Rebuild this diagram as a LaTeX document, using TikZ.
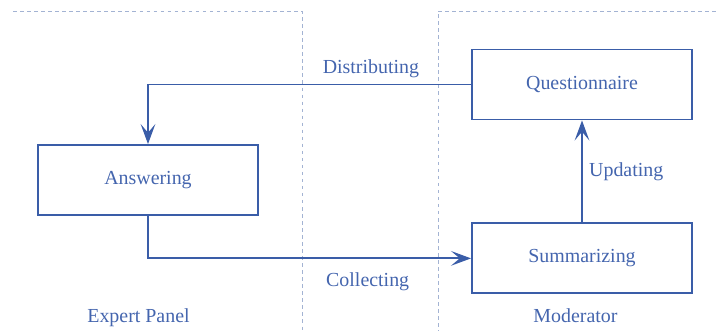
\documentclass[tikz,border=0pt]{standalone}
\usepackage{fontspec}
\setmainfont{Liberation Serif}
\usetikzlibrary{arrows.meta, positioning}
\definecolor{dlpblue}{HTML}{3A5DA8}
\definecolor{dlptext}{HTML}{4465AE}
\definecolor{dlpgrid}{HTML}{A3B3D3}
\tikzset{
  stage/.style={rectangle, minimum width=6.6cm, minimum height=2.1cm, draw=dlpblue,
    line width=1.6pt, font=\fontsize{17}{20}\selectfont, text=dlptext, inner sep=0pt},
  lbl/.style={font=\fontsize{17}{20}\selectfont, text=dlptext},
  flow/.style={-{Stealth[length=6mm, width=4.4mm, inset=2.6mm]}, line width=1.6pt, dlpblue},
  panel/.style={dlpgrid, line width=0.6pt, dash pattern=on 3pt off 3pt},
}

\begin{document}
\begin{tikzpicture}
    \useasboundingbox (0,0) rectangle (21.48,9.93);
    % panel frames
    \draw[panel] (0.39,9.6) -- (9.06,9.6) -- (9.06,0);
    \draw[panel] (21.48,9.6) -- (13.14,9.6) -- (13.14,0);
    % stages
    \node[stage] (ans) at (4.44,4.53) {Answering};
    \node[stage] (quest) at (17.46,7.395) {Questionnaire};
    \node[stage, below=3.06cm of quest] (summ) {Summarizing};
    % flows between the stages
    \draw[flow] (quest.west) -| node[lbl, above, pos=0.155, yshift=2pt]{Distributing} (ans.north);
    \draw[flow] (ans.south) |- node[lbl, below, pos=0.84, yshift=-8pt]{Collecting} (summ.west);
    \draw[flow] (summ.north) -- node[lbl, right, xshift=2pt]{Updating} (quest.south);
    % panel names
    \node[lbl, anchor=base] (expert) at (4.155,0.27) {Expert Panel};
    \node[lbl, anchor=base] (moder) at (17.265,0.27) {Moderator};
\end{tikzpicture}
\end{document}
